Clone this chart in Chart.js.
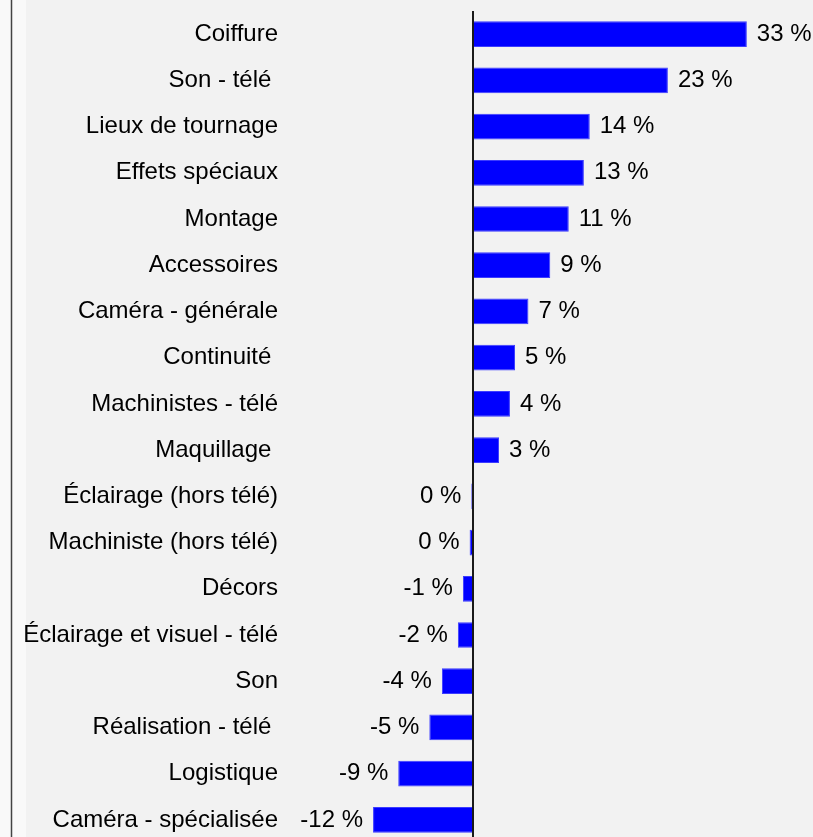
<!DOCTYPE html>
<html>
<head>
<meta charset="utf-8">
<script src="https://cdn.jsdelivr.net/npm/chart.js@4.4.1/dist/chart.umd.min.js"></script>
<style>
html, body { margin: 0; padding: 0; background: #f9f9f9; overflow: hidden; }
#wrap { position: relative; width: 813px; height: 843px; }
</style>
</head>
<body>
<div id="wrap"><canvas id="chart"></canvas></div>
<script>
// categories (trailing spaces kept as in the source labels)
var categories = ['Coiffure', 'Son - télé ', 'Lieux de tournage', 'Effets spéciaux', 'Montage',
    'Accessoires', 'Caméra - générale', 'Continuité ', 'Machinistes - télé', 'Maquillage ',
    'Éclairage (hors télé)', 'Machiniste (hors télé)', 'Décors', 'Éclairage et visuel - télé',
    'Son', 'Réalisation - télé ', 'Logistique', 'Caméra - spécialisée'];
// variation in %
var values = [32.6, 23.2, 13.9, 13.2, 11.4, 9.2, 6.6, 5.0, 4.4, 3.1,
    -0.2, -0.4, -1.2, -1.8, -3.7, -5.2, -8.9, -11.9];
var xMin = -20;
var xMax = 40;

var FONT = { family: '"Liberation Sans", Arial, sans-serif', size: 24 };

var bgPlugin = {
    id: 'bg',
    beforeDraw: function (chart) {
        var ctx = chart.ctx;
        ctx.save();
        ctx.fillStyle = '#f2f2f2';
        ctx.fillRect(26, 0, chart.width - 26, chart.height);
        ctx.fillStyle = '#f9f9f9';
        ctx.fillRect(0, 0, 26, chart.height);
        ctx.strokeStyle = '#444';
        ctx.lineWidth = 1.5;
        ctx.beginPath();
        ctx.moveTo(11.5, 0);
        ctx.lineTo(11.5, chart.height);
        ctx.stroke();
        ctx.restore();
    }
};

var valueLabels = {
    id: 'valueLabels',
    afterDatasetsDraw: function (chart) {
        var ctx = chart.ctx;
        var meta = chart.getDatasetMeta(0);
        ctx.save();
        ctx.font = FONT.size + 'px ' + FONT.family;
        ctx.fillStyle = '#000';
        ctx.textBaseline = 'middle';
        meta.data.forEach(function (bar, i) {
            var v = values[i];
            var r = Math.round(v);
            var txt = (r === 0 ? 0 : r) + ' %';
            if (v >= 0) {
                ctx.textAlign = 'left';
                ctx.fillText(txt, bar.x + 10, bar.y);
            } else {
                ctx.textAlign = 'right';
                ctx.fillText(txt, bar.x - 10, bar.y);
            }
        });
        ctx.restore();
    }
};

var ctx = document.getElementById('chart').getContext('2d');
var chart = new Chart(ctx, {
    type: 'bar',
    data: {
        labels: categories,
        datasets: [{
            data: values,
            backgroundColor: '#0000ff',
            borderColor: '#3c3cff',
            borderWidth: 1,
            barPercentage: 0.556,
            categoryPercentage: 1.0
        }]
    },
    options: {
        indexAxis: 'y',
        responsive: true,
        maintainAspectRatio: false,
        animation: false,
        layout: { padding: { top: 11, right: 4, bottom: 0, left: 0 } },
        plugins: {
            legend: { display: false },
            tooltip: { enabled: false }
        },
        scales: {
            x: {
                min: xMin,
                max: xMax,
                ticks: { display: false, stepSize: 10 },
                border: { display: false },
                grid: {
                    drawTicks: false,
                    lineWidth: 2,
                    color: function (c) { return c.tick && c.tick.value === 0 ? '#1a1a1a' : 'rgba(0,0,0,0)'; }
                },
                afterFit: function (s) { s.height = 0; s.paddingTop = 0; s.paddingBottom = 0; }
            },
            y: {
                grid: { display: false },
                border: { display: false },
                ticks: { color: '#000', padding: 19, font: FONT },
                afterFit: function (s) { s.width = 305; s.paddingTop = 0; s.paddingBottom = 0; }
            }
        }
    },
    plugins: [bgPlugin, valueLabels]
});
</script>
</body>
</html>
